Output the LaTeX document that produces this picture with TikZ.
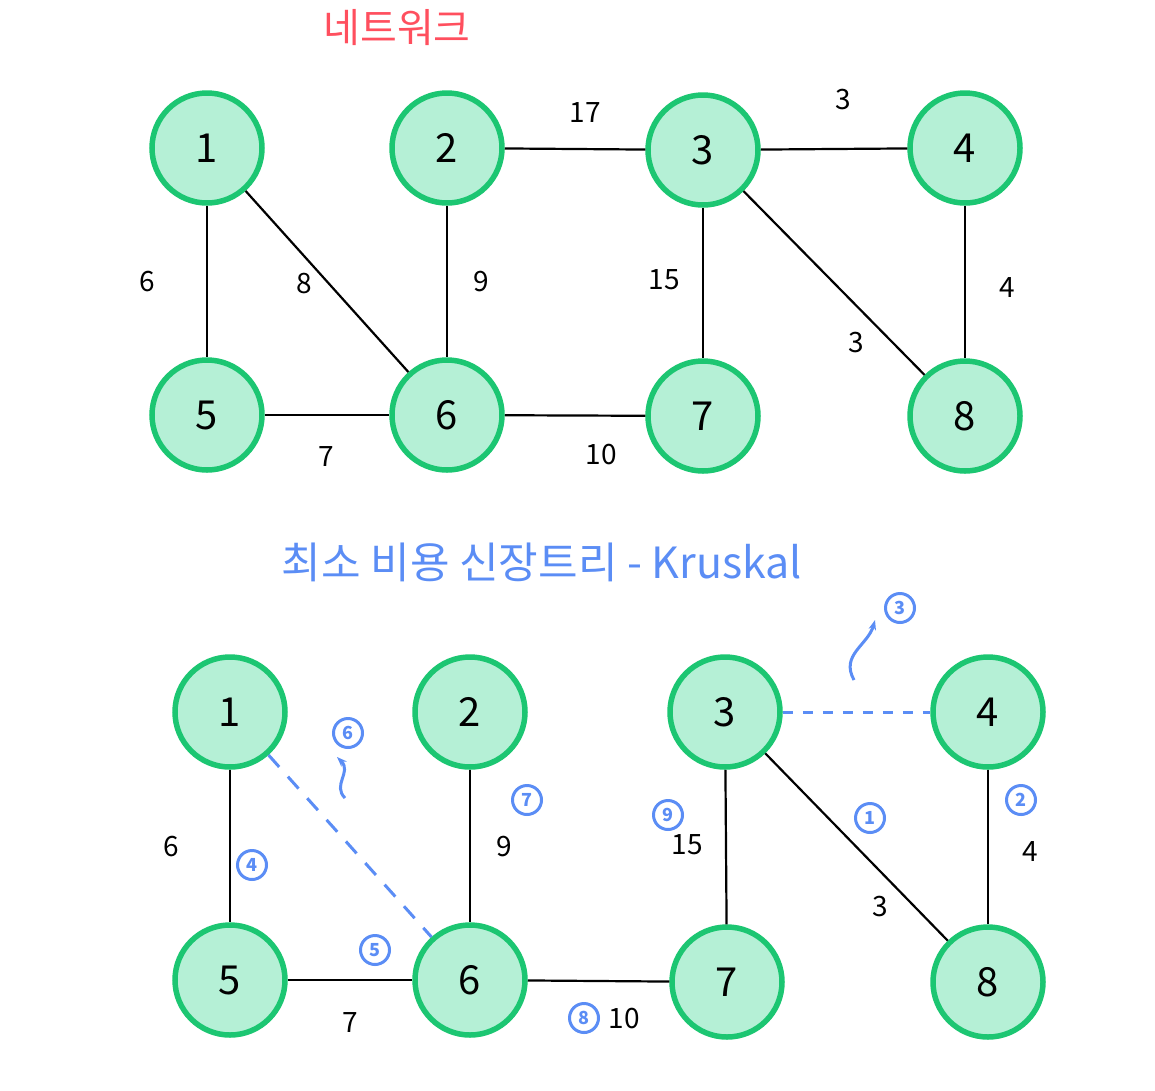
\documentclass[tikz,border=0pt]{standalone}
\usepackage{fontspec}
\setmainfont{Noto Sans CJK KR}
\usetikzlibrary{arrows.meta}
\definecolor{nodefill}{HTML}{B5F0D6}
\definecolor{nodeline}{HTML}{1CC672}
\definecolor{titlered}{HTML}{FF4F5E}
\definecolor{mstblue}{HTML}{5B8DF5}

\begin{document}
\begin{tikzpicture}[
  x=1pt, y=-1pt,
  vertex/.style={circle, draw=nodeline, fill=nodefill, line width=5.5pt, minimum size=110pt, inner sep=0pt, font=\fontsize{40}{40}\selectfont},
  edge/.style={line width=2.2pt, black},
  pick/.style={line width=3pt, mstblue, dash pattern=on 16pt off 13pt},
  weight/.style={font=\fontsize{28}{28}\selectfont},
  order/.style={circle, draw=mstblue, line width=3pt, text=mstblue, minimum size=29pt, inner sep=0pt, font=\bfseries\fontsize{18}{18}\selectfont},
  cyc/.style={-{Stealth[length=10pt]}, line width=3pt, mstblue}
]
\useasboundingbox (0,0) rectangle (1155,1090);

% titles
\node[text=titlered, font=\fontsize{40}{40}\selectfont] (title1) at (397,28) {네트워크};
\node[text=mstblue, font=\fontsize{43}{43}\selectfont] (title2) at (542,562) {최소 비용 신장트리 - Kruskal};

% network
\node[vertex] (a1) at (207,148) {1};
\node[vertex] (a2) at (447,148) {2};
\node[vertex] (a3) at (703,150) {3};
\node[vertex] (a4) at (965,148) {4};
\node[vertex] (a5) at (207,415) {5};
\node[vertex] (a6) at (447,415) {6};
\node[vertex] (a7) at (703,416) {7};
\node[vertex] (a8) at (965,416) {8};

\draw[edge] (a1) -- (a5);
\draw[edge] (a1) -- (a6);
\draw[edge] (a2) -- (a6);
\draw[edge] (a2) -- (a3);
\draw[edge] (a3) -- (a4);
\draw[edge] (a3) -- (a7);
\draw[edge] (a3) -- (a8);
\draw[edge] (a4) -- (a8);
\draw[edge] (a5) -- (a6);
\draw[edge] (a6) -- (a7);

\node[weight] (wa17) at (585,113) {17};
\node[weight] (wa34) at (843,100) {3};
\node[weight] (wa15) at (147,282) {6};
\node[weight] (wa16) at (304,284) {8};
\node[weight] (wa26) at (481,282) {9};
\node[weight] (wa37) at (664,280) {15};
\node[weight] (wa48) at (1007,288) {4};
\node[weight] (wa38) at (856,343) {3};
\node[weight] (wa56) at (326,457) {7};
\node[weight] (wa67) at (601,455) {10};

% kruskal
\node[vertex] (b1) at (230,712) {1};
\node[vertex] (b2) at (470,712) {2};
\node[vertex] (b3) at (725,712) {3};
\node[vertex] (b4) at (988,712) {4};
\node[vertex] (b5) at (230,980) {5};
\node[vertex] (b6) at (470,980) {6};
\node[vertex] (b7) at (727,982) {7};
\node[vertex] (b8) at (988,982) {8};

\draw[edge] (b1) -- (b5);
\draw[edge] (b2) -- (b6);
\draw[edge] (b3) -- (b7);
\draw[edge] (b3) -- (b8);
\draw[edge] (b4) -- (b8);
\draw[edge] (b5) -- (b6);
\draw[edge] (b6) -- (b7);
\draw[pick] (b1) -- (b6);
\draw[pick, dash pattern=on 10pt off 10pt] (b3) -- (b4);

\node[weight] (wb15) at (171,847) {6};
\node[weight] (wb26) at (504,847) {9};
\node[weight] (wb37) at (687,845) {15};
\node[weight] (wb38) at (880,907) {3};
\node[weight] (wb48) at (1030,852) {4};
\node[weight] (wb56) at (350,1022) {7};
\node[weight] (wb67) at (624,1018) {10};

\node[order] (o1) at (870,818) {1};
\node[order] (o2) at (1021,800) {2};
\node[order] (o3) at (900,608) {3};
\node[order] (o4) at (252,865) {4};
\node[order] (o5) at (375,950) {5};
\node[order] (o6) at (348,733) {6};
\node[order] (o7) at (527,800) {7};
\node[order] (o8) at (584,1018) {8};
\node[order] (o9) at (668,815) {9};

% cycle marks
\coordinate (c6s) at (345,798);
\coordinate (c6e) at (337,757);
\draw[cyc] (c6s) .. controls (332,785) and (352,772) .. (c6e);
\coordinate (c3s) at (854,680);
\coordinate (c3e) at (875,620);
\draw[cyc] (c3s) .. controls (840,655) and (868,645) .. (c3e);

\end{tikzpicture}
\end{document}
